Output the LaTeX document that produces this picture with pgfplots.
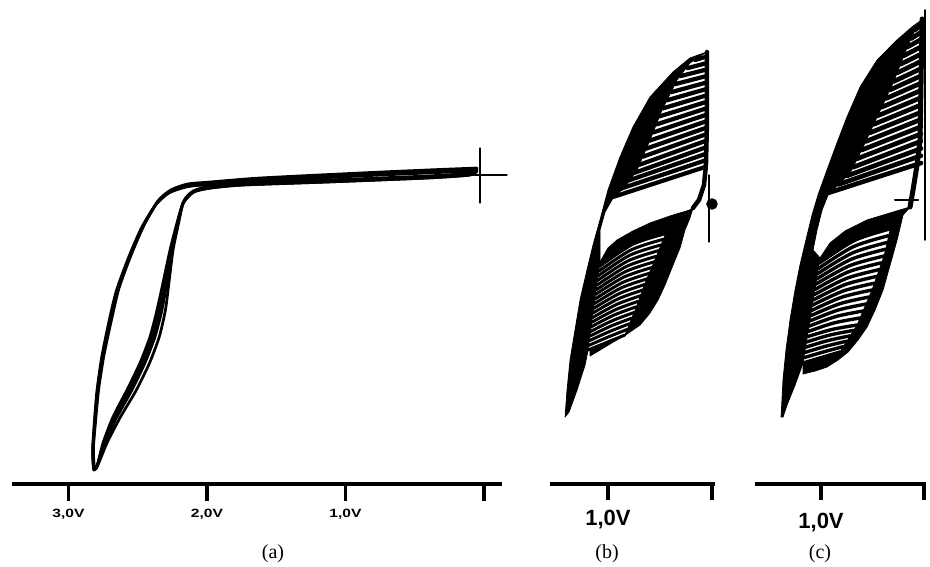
\documentclass[border=0pt]{standalone}
\usepackage{fontspec}
\setmainfont{Liberation Serif}
\setsansfont{Liberation Sans}
\newfontfamily\wideSans[FakeStretch=1.3]{Liberation Sans}
\usepackage{pgfplots}
\pgfplotsset{compat=1.18}
\pgfplotsset{
  cv/.style={
    scale only axis, anchor=south west, height=484pt,
    x dir=reverse, ymin=0, ymax=484,
    axis x line=bottom, axis y line=none,
    axis line style={-, line width=3.5pt, line cap=butt},
    xtick align=outside,
    tick style={line width=3.5pt, black},
    clip=false, ytick=\empty,
  },
  hb/.style={black, line width=#1, line cap=round, line join=round, mark=none},
  fb/.style={black, fill=black, line width=0.8pt, line join=round, mark=none},
}
\begin{document}
\begin{tikzpicture}[x=1pt,y=1pt]
\useasboundingbox (0,0) rectangle (930,566);
% ---------------- (a)
\begin{axis}[cv, at={(12pt,82pt)}, width=490pt, xmin=-0.130, xmax=3.408,
  xtick={0,1,2,3}, xticklabels={{},{1,0V},{2,0V},{3,0V}}, major tick length=17pt,
  xticklabel style={font=\wideSans\bfseries\fontsize{12}{12}\selectfont, yshift=-5pt}]
\addplot[hb=2.7pt, smooth, tension=0.4] coordinates {
(0.051,315) (0.412,313) (0.895,310) (1.617,305) (1.978,301) (2.144,299) (2.267,293) (2.361,281)
(2.462,257) (2.556,227) (2.643,194) (2.700,161) (2.751,127) (2.787,94) (2.809,61) (2.823,34)
(2.816,16) (2.794,18) (2.751,41) (2.679,67) (2.578,94) (2.484,121) (2.412,147) (2.361,174)
(2.318,201) (2.267,234) (2.217,261) (2.173,281) (2.101,292) (1.978,297) (1.740,300) (1.134,303)
(0.412,307) (0.101,310) (0.051,315)};
\addplot[hb=2.7pt, smooth, tension=0.4] coordinates {
(0.051,313) (0.412,311) (0.895,308) (1.617,303) (1.978,299) (2.147,298) (2.271,292) (2.366,280)
(2.468,256) (2.562,226) (2.649,193) (2.706,160) (2.756,127) (2.791,94) (2.812,61) (2.825,34)
(2.817,15) (2.792,19) (2.744,41) (2.665,67) (2.560,94) (2.466,121) (2.394,147) (2.343,174)
(2.304,201) (2.259,234) (2.213,261) (2.172,281) (2.098,292) (1.974,296) (1.740,299) (1.134,302)
(0.412,306) (0.101,309) (0.051,313)};
\addplot[hb=2.7pt, smooth, tension=0.4] coordinates {
(0.051,314) (0.412,312) (0.895,309) (1.617,304) (1.978,300) (2.150,297) (2.275,291) (2.372,279)
(2.474,256) (2.568,226) (2.655,193) (2.712,160) (2.760,127) (2.794,94) (2.814,61) (2.826,34)
(2.818,14) (2.790,20) (2.737,41) (2.650,67) (2.542,94) (2.448,121) (2.376,147) (2.325,174)
(2.290,201) (2.250,234) (2.209,261) (2.170,281) (2.095,292) (1.970,296) (1.740,299) (1.134,302)
(0.412,306) (0.101,309) (0.051,314)};
\addplot[hb=2.7pt, smooth, tension=0.4] coordinates {
(0.051,316) (0.412,314) (0.895,311) (1.617,306) (1.978,302) (2.140,300) (2.262,294) (2.355,283)
(2.455,259) (2.548,229) (2.635,196) (2.693,162) (2.745,128) (2.782,95) (2.805,62) (2.820,36)
(2.814,18) (2.797,16) (2.722,41) (2.625,67) (2.510,94) (2.415,121) (2.345,147) (2.300,174)
(2.275,201) (2.245,234) (2.205,261) (2.168,283) (2.100,293) (1.975,298) (1.740,301) (1.134,304)
(0.412,308) (0.101,311) (0.051,316)};
\addplot[hb=1.3pt] coordinates {(0.029,336) (0.029,281)};
\addplot[hb=1.3pt] coordinates {(0.130,309) (-0.166,309)};
\end{axis}
% ---------------- (b)
\begin{axis}[cv, at={(550pt,82pt)}, width=165pt, xmin=-0.029, xmax=1.558,
  xtick={0,1}, xticklabels={{},{1,0V}}, major tick length=16pt,
  xticklabel style={font=\sffamily\bfseries\fontsize{22}{22}\selectfont, yshift=-7pt}]
\addplot[fb] coordinates {
(1.413,67) (1.394,94) (1.365,124) (1.317,154) (1.269,184) (1.202,214) (1.144,239) (1.077,264)
(1.000,294) (0.885,327) (0.760,357) (0.596,387) (0.375,412) (0.212,426) (0.048,432)
(0.115,428) (0.212,421) (0.337,404) (0.481,374) (0.596,344) (0.721,314) (0.837,297) (0.952,286)
(1.029,272) (1.077,254) (1.077,222) (1.115,194) (1.154,164) (1.192,134) (1.221,119) (1.298,94)
(1.375,72)} -- cycle;
\addplot[fb] coordinates {
(0.183,276) (0.212,266) (0.260,254) (0.308,236) (0.375,219) (0.452,199) (0.519,184) (0.596,171)
(0.692,159) (0.817,150) (0.933,143) (1.077,134) (1.173,128) (1.173,134) (0.837,149) (0.731,176)
(0.635,203) (0.529,229) (0.423,256) (0.308,268)} -- cycle;
\addplot[fb] coordinates {
(1.077,222) (1.000,236) (0.913,244) (0.760,253) (0.596,261) (0.404,268) (0.212,274) (0.308,268)
(0.423,256) (0.445,250.4) (0.764,239.6) (1.083,217.4)} -- cycle;
% upper hatch (b)
\addplot[hb=4.2pt] coordinates {(0.952,287.0) (0.067,317.0)};
\addplot[hb=4.2pt] coordinates {(0.883,295.1) (0.067,323.5)};
\addplot[hb=4.2pt] coordinates {(0.814,303.1) (0.067,329.9)};
\addplot[hb=4.2pt] coordinates {(0.745,311.2) (0.067,336.4)};
\addplot[hb=4.2pt] coordinates {(0.699,319.2) (0.067,342.9)};
\addplot[hb=4.2pt] coordinates {(0.665,327.3) (0.067,349.4)};
\addplot[hb=4.2pt] coordinates {(0.632,335.4) (0.067,355.8)};
\addplot[hb=4.2pt] coordinates {(0.599,343.4) (0.067,362.3)};
\addplot[hb=4.2pt] coordinates {(0.567,351.5) (0.067,368.8)};
\addplot[hb=4.2pt] coordinates {(0.537,359.5) (0.067,375.2)};
\addplot[hb=4.2pt] coordinates {(0.506,367.6) (0.067,381.7)};
\addplot[hb=4.2pt] coordinates {(0.473,375.6) (0.067,388.2)};
\addplot[hb=4.2pt] coordinates {(0.435,383.7) (0.067,394.6)};
\addplot[hb=4.2pt] coordinates {(0.395,391.8) (0.067,401.1)};
\addplot[hb=4.2pt] coordinates {(0.357,399.8) (0.067,407.6)};
\addplot[hb=4.2pt] coordinates {(0.303,407.9) (0.067,414.1)};
\addplot[hb=4.2pt] coordinates {(0.234,415.9) (0.067,420.5)};
\addplot[hb=4.2pt] coordinates {(0.163,424.0) (0.067,427.0)};
% lower hatch (b)
\addplot[hb=3pt, smooth] coordinates {(1.083,217.4) (0.764,239.6) (0.445,250.4)};
\addplot[hb=3pt, smooth] coordinates {(1.089,212.7) (0.778,234.1) (0.467,244.7)};
\addplot[hb=3pt, smooth] coordinates {(1.095,208.1) (0.792,228.7) (0.488,239.1)};
\addplot[hb=3pt, smooth] coordinates {(1.101,203.5) (0.806,223.2) (0.510,233.5)};
\addplot[hb=3pt, smooth] coordinates {(1.107,198.8) (0.820,217.7) (0.532,227.8)};
\addplot[hb=3pt, smooth] coordinates {(1.113,194.2) (0.834,212.3) (0.554,222.2)};
\addplot[hb=3pt, smooth] coordinates {(1.120,189.6) (0.848,206.9) (0.575,216.6)};
\addplot[hb=3pt, smooth] coordinates {(1.126,184.9) (0.862,201.4) (0.597,210.9)};
\addplot[hb=3pt, smooth] coordinates {(1.132,180.3) (0.876,196.0) (0.619,205.3)};
\addplot[hb=3pt, smooth] coordinates {(1.138,175.7) (0.890,190.5) (0.641,199.7)};
\addplot[hb=3pt, smooth] coordinates {(1.144,171.1) (0.903,185.1) (0.662,194.1)};
\addplot[hb=3pt, smooth] coordinates {(1.150,166.4) (0.917,179.6) (0.684,188.4)};
\addplot[hb=3pt, smooth] coordinates {(1.156,161.8) (0.931,174.2) (0.706,182.8)};
\addplot[hb=3pt, smooth] coordinates {(1.162,157.2) (0.945,168.8) (0.728,177.2)};
\addplot[hb=3pt, smooth] coordinates {(1.168,152.5) (0.959,163.3) (0.749,171.5)};
\addplot[hb=3pt, smooth] coordinates {(1.174,147.9) (0.973,157.9) (0.771,165.9)};
\addplot[hb=3pt, smooth] coordinates {(1.180,143.3) (0.987,152.4) (0.793,160.3)};
\addplot[hb=3pt, smooth] coordinates {(1.186,138.6) (1.001,146.9) (0.815,154.6)};
\addplot[hb=3pt, smooth] coordinates {(1.192,134.0) (1.015,141.5) (0.837,149.0)};
% right side (b)
\addplot[hb=4.5pt] coordinates {(0.048,432) (0.048,364) (0.058,319) (0.077,299) (0.125,284) (0.183,276)};
\addplot[hb=1.3pt] coordinates {(0.029,309) (0.029,242)};
\addplot[only marks, mark=*, mark size=5.5pt, black] coordinates {(0.000,280)};
\end{axis}
% ---------------- (c)
\begin{axis}[cv, at={(755pt,82pt)}, width=171pt, xmin=-0.019, xmax=1.641,
  xtick={0,1}, xticklabels={{},{1,0V}}, major tick length=16pt,
  xticklabel style={font=\sffamily\bfseries\fontsize{22}{22}\selectfont, yshift=-10pt}]
\addplot[fb] coordinates {
(1.388,67) (1.379,84) (1.369,104) (1.340,134) (1.301,164) (1.252,194) (1.204,219) (1.146,244)
(1.087,269) (1.029,289) (0.942,314) (0.845,341) (0.748,367) (0.621,397) (0.456,424) (0.262,444)
(0.117,457) (0.010,465)
(0.010,461) (0.087,454) (0.155,439) (0.301,401) (0.456,367) (0.592,337) (0.718,311) (0.835,299)
(0.932,289) (0.990,274) (1.039,254) (1.078,234) (1.010,226) (1.043,205) (1.076,184) (1.109,163)
(1.142,142) (1.175,121) (1.252,99) (1.330,79) (1.369,67)} -- cycle;
\addplot[fb] coordinates {
(0.136,277) (0.204,269) (0.262,244) (0.330,219) (0.398,194) (0.476,174) (0.553,157) (0.641,144)
(0.738,132) (0.835,124) (0.942,117) (1.058,113) (1.175,110) (1.175,121) (0.816,132) (0.650,159)
(0.505,194) (0.388,228) (0.311,262) (0.204,270)} -- cycle;
\addplot[fb] coordinates {
(1.010,226) (0.913,241) (0.767,253) (0.553,264) (0.330,271) (0.136,277) (0.204,270) (0.311,262)
(0.326,255.2) (0.672,243.7) (1.018,220.8)} -- cycle;
% upper hatch (c)
\addplot[hb=4.6pt] coordinates {(0.932,291.0) (0.029,321.0)};
\addplot[hb=4.6pt] coordinates {(0.829,299.6) (0.029,328.3)};
\addplot[hb=4.6pt] coordinates {(0.746,308.2) (0.029,335.5)};
\addplot[hb=4.6pt] coordinates {(0.690,316.7) (0.029,342.8)};
\addplot[hb=4.6pt] coordinates {(0.649,325.3) (0.029,350.1)};
\addplot[hb=4.6pt] coordinates {(0.608,333.9) (0.029,357.3)};
\addplot[hb=4.6pt] coordinates {(0.567,342.5) (0.029,364.6)};
\addplot[hb=4.6pt] coordinates {(0.528,351.1) (0.029,371.8)};
\addplot[hb=4.6pt] coordinates {(0.490,359.6) (0.029,379.1)};
\addplot[hb=4.6pt] coordinates {(0.450,368.2) (0.029,386.4)};
\addplot[hb=4.6pt] coordinates {(0.412,376.8) (0.029,393.6)};
\addplot[hb=4.6pt] coordinates {(0.372,385.4) (0.029,400.9)};
\addplot[hb=4.6pt] coordinates {(0.333,394.0) (0.029,408.2)};
\addplot[hb=4.6pt] coordinates {(0.295,402.5) (0.029,415.4)};
\addplot[hb=4.6pt] coordinates {(0.262,411.1) (0.029,422.7)};
\addplot[hb=4.6pt] coordinates {(0.229,419.7) (0.029,429.9)};
\addplot[hb=4.6pt] coordinates {(0.196,428.3) (0.029,437.2)};
\addplot[hb=4.6pt] coordinates {(0.163,436.9) (0.029,444.5)};
\addplot[hb=4.6pt] coordinates {(0.126,445.4) (0.029,451.7)};
\addplot[hb=4.6pt] coordinates {(0.087,454.0) (0.029,459.0)};
% lower hatch (c)
\addplot[hb=3.4pt, smooth] coordinates {(1.018,220.8) (0.672,243.7) (0.326,255.2)};
\addplot[hb=3.4pt, smooth] coordinates {(1.026,215.5) (0.684,237.4) (0.342,248.4)};
\addplot[hb=3.4pt, smooth] coordinates {(1.034,210.3) (0.696,231.0) (0.357,241.6)};
\addplot[hb=3.4pt, smooth] coordinates {(1.043,205.0) (0.708,224.7) (0.373,234.8)};
\addplot[hb=3.4pt, smooth] coordinates {(1.051,199.8) (0.720,218.4) (0.388,228.0)};
\addplot[hb=3.4pt, smooth] coordinates {(1.059,194.5) (0.736,212.1) (0.412,221.2)};
\addplot[hb=3.4pt, smooth] coordinates {(1.067,189.3) (0.751,205.7) (0.435,214.4)};
\addplot[hb=3.4pt, smooth] coordinates {(1.076,184.0) (0.767,199.4) (0.458,207.6)};
\addplot[hb=3.4pt, smooth] coordinates {(1.084,178.8) (0.783,193.1) (0.482,200.8)};
\addplot[hb=3.4pt, smooth] coordinates {(1.092,173.5) (0.799,186.8) (0.505,194.0)};
\addplot[hb=3.4pt, smooth] coordinates {(1.100,168.3) (0.817,180.3) (0.534,187.0)};
\addplot[hb=3.4pt, smooth] coordinates {(1.109,163.0) (0.836,173.9) (0.563,180.0)};
\addplot[hb=3.4pt, smooth] coordinates {(1.117,157.8) (0.855,167.5) (0.592,173.0)};
\addplot[hb=3.4pt, smooth] coordinates {(1.125,152.5) (0.873,161.1) (0.621,166.0)};
\addplot[hb=3.4pt, smooth] coordinates {(1.133,147.3) (0.892,154.6) (0.650,159.0)};
\addplot[hb=3.4pt, smooth] coordinates {(1.142,142.0) (0.913,149.0) (0.683,153.6)};
\addplot[hb=3.4pt, smooth] coordinates {(1.150,136.8) (0.934,143.4) (0.717,148.2)};
\addplot[hb=3.4pt, smooth] coordinates {(1.158,131.5) (0.954,137.8) (0.750,142.8)};
\addplot[hb=3.4pt, smooth] coordinates {(1.166,126.3) (0.975,132.1) (0.783,137.4)};
\addplot[hb=3.4pt, smooth] coordinates {(1.175,121.0) (0.996,126.5) (0.816,132.0)};
% right side (c)
\addplot[hb=5pt] coordinates {(0.019,465) (0.029,404) (0.039,344) (0.068,319) (0.107,294) (0.136,277)};
\addplot[hb=1.5pt] coordinates {(-0.010,474) (-0.010,244)};
\addplot[hb=2pt] coordinates {(0.282,284) (0.058,284)};
\end{axis}
\node[font=\fontsize{20}{20}\selectfont] at (273,12) {(a)};
\node[font=\fontsize{20}{20}\selectfont] at (607,12) {(b)};
\node[font=\fontsize{20}{20}\selectfont] at (820,12) {(c)};
\end{tikzpicture}
\end{document}
